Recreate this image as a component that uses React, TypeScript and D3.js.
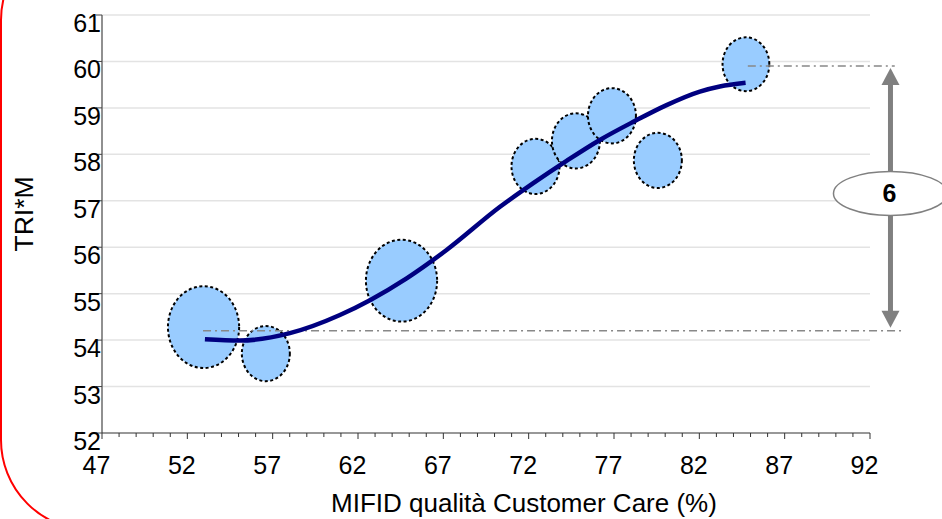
import React from "react";
import * as d3 from "d3";

// ---- data ----
const bubbleX = [52.95, 56.6, 64.55, 72.4, 74.77, 76.88, 79.57, 84.73];
const bubbleY = [54.28, 53.71, 55.28, 57.74, 58.29, 58.83, 57.87, 59.94];
const bubbleSize = [2.2, 1, 2.2, 1, 1, 1, 1, 0.95];

const trendX = [53.03, 55.08, 58.01, 60.94, 62.7, 64.85, 67.19, 70.32, 72.27, 74.22, 76.17, 78.13, 80.08, 82.03, 83.2, 84.71];
const trendY = [54.02, 53.99, 54.15, 54.54, 54.86, 55.33, 55.94, 56.87, 57.38, 57.86, 58.31, 58.7, 59.06, 59.35, 59.46, 59.54];

const xTicks = [47, 52, 57, 62, 67, 72, 77, 82, 87, 92];
const yTicks = [52, 53, 54, 55, 56, 57, 58, 59, 60, 61];

const refLow = 54.2;
const refHigh = 59.9;
const refLowStartX = 52.92;
const refHighStartX = 84.84;
const refLowEndX = 93.9;
const refHighEndX = 93.45;
const arrowX = 93.2;
const gapLabel = "6";

const xTitle = "MIFID qualità Customer Care (%)";
const yTitle = "TRI*M";

export default function App() {
  const W = 942, H = 519;
  const x = d3.scaleLinear().domain([47, 92]).range([102, 870]);
  const y = d3.scaleLinear().domain([52, 61]).range([433, 15]);
  const r = d3.scaleSqrt().domain([0, 1]).range([0, 24]);

  const trendPts: [number, number][] = trendX.map((v, i) => [x(v), y(trendY[i])]);
  const line = d3.line().curve(d3.curveMonotoneX)(trendPts) || "";

  const minorTicks = d3.range(47, 93, 1);
  const font = "'Liberation Sans', Arial, sans-serif";
  const refDash = "8,4,2,4";
  const ax = x(arrowX);
  const yTop = y(refHigh) + 2;
  const yBot = y(refLow) - 3;
  const headH = 17, headW = 9;
  const labelY = (y(refHigh) + y(refLow)) / 2 - 5;

  return (
    <svg width={W} height={H} style={{ position: "absolute", left: 0, top: 0 }} fontFamily={font}>
      <rect width={W} height={H} fill="#fff" />
      {/* red rounded frame */}
      <path d={`M 91 -70 A 90 90 0 0 0 1 20 L 1 440 A 90 90 0 0 0 91 530`} fill="none" stroke="#ff0000" strokeWidth={2} />

      {/* gridlines */}
      {yTicks.filter((t) => t > 52).map((t) => (
        <line key={"g" + t} x1={x(47)} x2={x(92)} y1={y(t)} y2={y(t)} stroke="#e3e3e3" strokeWidth={1.5} />
      ))}

      {/* axes */}
      <line x1={x(47)} x2={x(47)} y1={y(61)} y2={y(52)} stroke="#6b6b6b" strokeWidth={1.5} />
      <line x1={x(47)} x2={x(92)} y1={y(52)} y2={y(52)} stroke="#333" strokeWidth={1.2} />
      {yTicks.map((t) => (
        <line key={"yt" + t} x1={x(47) - 6} x2={x(47)} y1={y(t)} y2={y(t)} stroke="#444" strokeWidth={1} />
      ))}
      {minorTicks.map((t) => (
        <line key={"xt" + t} x1={x(t)} x2={x(t)} y1={y(52)} y2={y(52) + ((t - 47) % 5 === 0 ? 6 : 4)} stroke="#333" strokeWidth={1} />
      ))}

      {/* tick labels */}
      {yTicks.map((t) => (
        <text key={"yl" + t} x={x(47) - 1} y={y(t) + 17} textAnchor="end" fontSize={25} fill="#000">{t}</text>
      ))}
      {xTicks.map((t) => (
        <text key={"xl" + t} x={x(t) - 5.5} y={474} textAnchor="middle" fontSize={25} fill="#000">{t}</text>
      ))}

      {/* axis titles */}
      <text x={524} y={512} textAnchor="middle" fontSize={26} fill="#000">{xTitle}</text>
      <text transform={`translate(33,214) rotate(-90)`} textAnchor="middle" fontSize={26.5} fill="#000">{yTitle}</text>

      {/* bubbles */}
      {bubbleX.map((bx, i) => (
        <ellipse key={"b" + i} cx={x(bx)} cy={y(bubbleY[i])} rx={r(bubbleSize[i])} ry={r(bubbleSize[i]) * 1.15}
          fill="#99ccff" stroke="#000" strokeWidth={2} strokeDasharray="3,2.5" />
      ))}

      {/* reference lines */}
      <line x1={x(refLowStartX)} x2={x(refLowEndX)} y1={y(refLow)} y2={y(refLow)} stroke="#888" strokeWidth={1.5} strokeDasharray={refDash} />
      <line x1={x(refHighStartX)} x2={x(refHighEndX)} y1={y(refHigh)} y2={y(refHigh)} stroke="#888" strokeWidth={1.5} strokeDasharray={refDash} />

      {/* trend line */}
      <path d={line} fill="none" stroke="#000080" strokeWidth={4.5} strokeLinecap="butt" />

      {/* double arrow */}
      <line x1={ax} x2={ax} y1={yTop + headH - 1} y2={yBot - headH + 1} stroke="#808080" strokeWidth={5} />
      <path d={`M ${ax} ${yTop} L ${ax - headW} ${yTop + headH} L ${ax + headW} ${yTop + headH} Z`} fill="#808080" />
      <path d={`M ${ax} ${yBot} L ${ax - headW} ${yBot - headH} L ${ax + headW} ${yBot - headH} Z`} fill="#808080" />
      <ellipse cx={ax} cy={labelY} rx={57} ry={22} fill="#fff" stroke="#808080" strokeWidth={1.5} />
      <text x={ax - 1} y={labelY + 9} textAnchor="middle" fontSize={25} fontWeight="bold" fill="#000">{gapLabel}</text>
    </svg>
  );
}
